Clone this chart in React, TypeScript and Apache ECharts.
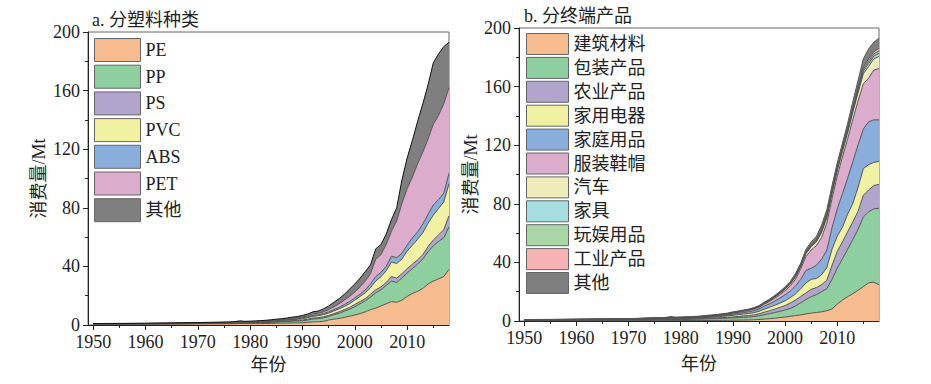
import React, { useEffect, useRef } from 'react';
import * as echarts from 'echarts';

const FONT = "'Liberation Serif', 'Times New Roman', 'Noto Sans CJK SC', serif";

const YEARS = [1950, 1955, 1960, 1965, 1970,
  1975, 1976, 1977, 1978, 1979, 1980, 1981, 1982, 1983, 1984, 1985, 1986, 1987, 1988, 1989,
  1990, 1991, 1992, 1993, 1994, 1995, 1996, 1997, 1998, 1999,
  2000, 2001, 2002, 2003, 2004, 2005, 2006, 2007, 2008, 2009,
  2010, 2011, 2012, 2013, 2014, 2015, 2016, 2017, 2018];

const X_LABELS = [1950, 1960, 1970, 1980, 1990, 2000, 2010];
const X_MINOR = [1955, 1965, 1975, 1985, 1995, 2005, 2015];

// a. by plastic type (Mt)
const PLASTIC_NAMES = ['PE', 'PP', 'PS', 'PVC', 'ABS', 'PET', '其他'];
const PLASTIC_COLORS = ['#f6bb8f', '#8ecf9f', '#b1a5cd', '#f1f1a2', '#89aedb', '#dcaccd', '#7f7f7f'];
const PE = [0.5, 0.55, 0.6, 0.65, 0.75, 0.85, 0.85, 0.9, 1.0, 0.95, 0.95, 1.0, 1.0, 1.05, 1.1, 1.2, 1.25, 1.3, 1.4, 1.45,
  1.5, 1.8, 2.1, 2.2, 2.5, 3.4, 4.0, 4.5, 5.2, 6.0, 6.8, 7.8, 9.0, 10.5, 11.5, 13, 14.5, 16, 15.5, 17, 19.5, 21.5, 23, 25, 28, 30, 31.5, 33, 38];
const PP = [0.1, 0.1, 0.12, 0.18, 0.22, 0.3, 0.32, 0.35, 0.45, 0.4, 0.45, 0.5, 0.55, 0.6, 0.7, 0.8, 0.9, 1.0, 1.2, 1.3,
  1.4, 1.6, 2.0, 2.1, 2.4, 2.4, 3, 3.5, 4.2, 4.8, 5.7, 6.7, 7.5, 8.5, 10.5, 11, 12.5, 14, 13.5, 15, 16, 17, 18.5, 20, 22, 24, 25.5, 26.5, 29];
const PS = [0.08, 0.08, 0.1, 0.12, 0.14, 0.16, 0.17, 0.18, 0.22, 0.2, 0.2, 0.22, 0.24, 0.26, 0.28, 0.32, 0.35, 0.38, 0.42, 0.45,
  0.5, 0.6, 0.7, 0.7, 0.7, 0.8, 0.8, 1, 1.1, 1.2, 1.5, 1.5, 1.5, 2, 2, 2, 2, 3, 3, 3, 3, 3, 3, 3, 3.5, 4, 4.5, 5.5, 7.5];
const PVC = [0.15, 0.16, 0.17, 0.19, 0.21, 0.25, 0.26, 0.28, 0.35, 0.3, 0.32, 0.34, 0.36, 0.4, 0.44, 0.5, 0.55, 0.6, 0.68, 0.72,
  0.9, 1.0, 1.2, 1.3, 1.5, 1.6, 1.8, 2, 2.2, 2.5, 3, 3.5, 4, 4.5, 6, 7, 8, 10, 10, 10, 12, 13, 14, 15, 16, 17, 18, 19, 22];
const ABS = [0.02, 0.02, 0.03, 0.05, 0.07, 0.1, 0.1, 0.12, 0.15, 0.13, 0.14, 0.15, 0.17, 0.19, 0.21, 0.24, 0.26, 0.28, 0.3, 0.32,
  0.5, 0.5, 0.6, 0.7, 0.7, 0.8, 0.9, 1, 1.3, 1.5, 1.5, 1.5, 2, 2.5, 3, 3, 3, 4, 4, 4, 4, 5, 5, 6, 6, 7, 6, 6, 7];
const PET = [0.05, 0.05, 0.06, 0.07, 0.09, 0.12, 0.13, 0.15, 0.2, 0.18, 0.2, 0.22, 0.25, 0.28, 0.32, 0.38, 0.42, 0.48, 0.55, 0.6,
  0.7, 0.8, 1.0, 1.0, 1.2, 1.5, 2, 2.5, 3, 3.5, 4, 5, 6, 7, 12, 12, 15, 17, 25, 34, 38.5, 41.5, 46.5, 49, 51.5, 55, 57.5, 61, 58.5];
const PLASTIC_OTHER = [0.12, 0.13, 0.14, 0.16, 0.18, 0.23, 0.25, 0.3, 0.45, 0.35, 0.35, 0.38, 0.42, 0.46, 0.5, 0.55, 0.6, 0.7, 0.8, 0.9,
  1.0, 1.2, 1.4, 1.5, 2.0, 2.5, 3.0, 3.5, 4.0, 5.0, 5.5, 6.0, 6.5, 6.0, 7.0, 7.0, 7.0, 8.0, 9, 16, 21, 25, 29, 33, 37, 42, 42, 39, 31];
const PLASTIC_VALUES = [PE, PP, PS, PVC, ABS, PET, PLASTIC_OTHER];

// b. by end-use product (Mt)
const PRODUCT_NAMES = ['建筑材料', '包装产品', '农业产品', '家用电器', '家庭用品', '服装鞋帽', '汽车', '家具', '玩娱用品', '工业产品', '其他'];
const PRODUCT_COLORS = ['#f6bb8f', '#8ecf9f', '#b1a5cd', '#f1f1a2', '#89aedb', '#dcaccd', '#efecbc', '#a6dde1', '#a8d7a5', '#f7b2b4', '#7f7f7f'];
const CONSTRUCTION = [0.15, 0.15, 0.17, 0.19, 0.2, 0.25, 0.25, 0.26, 0.28, 0.27, 0.28, 0.3, 0.32, 0.34, 0.36, 0.38, 0.4, 0.42, 0.45, 0.48,
  0.55, 0.6, 0.65, 0.7, 0.8, 1.0, 1.3, 1.6, 1.9, 2.3, 2.7, 3.2, 3.7, 4.2, 4.8, 5.4, 5.8, 6.3, 7, 8.2, 11.5, 14.3, 16.6, 18.7, 21, 23.5, 26, 26.5, 24.7];
const PACKAGING = [0.3, 0.32, 0.35, 0.4, 0.45, 0.6, 0.62, 0.66, 0.75, 0.7, 0.72, 0.75, 0.8, 0.86, 0.94, 1.05, 1.15, 1.25, 1.35, 1.45,
  1.55, 1.7, 1.85, 2.0, 2.2, 2.5, 3.0, 3.4, 3.9, 4.3, 4.8, 5.4, 6.6, 8.2, 9.9, 11.2, 12.2, 13.7, 15, 20.3, 24.5, 28.2, 32.4, 37.1, 41.7, 47.5, 48.5, 50, 52.3];
const AGRICULTURE = [0.1, 0.11, 0.12, 0.14, 0.17, 0.23, 0.24, 0.26, 0.3, 0.27, 0.28, 0.29, 0.3, 0.32, 0.35, 0.4, 0.43, 0.47, 0.55, 0.6,
  0.7, 0.8, 1.0, 1.0, 1.2, 1.4, 1.7, 2.0, 2.3, 2.7, 3.0, 3.7, 4.0, 4.3, 4.5, 5.0, 4.8, 4.8, 5.8, 9.5, 11.5, 11.5, 12, 12, 12.3, 14.8, 14.9, 16, 16.3];
const APPLIANCES = [0.12, 0.13, 0.15, 0.18, 0.22, 0.3, 0.31, 0.34, 0.4, 0.36, 0.37, 0.39, 0.41, 0.44, 0.48, 0.55, 0.6, 0.67, 0.8, 0.9,
  1.1, 1.2, 1.2, 1.4, 1.5, 1.7, 2.0, 2.3, 2.6, 2.9, 3.3, 3.7, 4.2, 5.3, 6.8, 6.9, 6.2, 6.7, 8.7, 11, 10.5, 10, 12, 12.6, 16.4, 18.2, 17.3, 15.7, 15.7];
const HOUSEHOLD = [0.1, 0.11, 0.12, 0.14, 0.16, 0.22, 0.23, 0.25, 0.3, 0.27, 0.28, 0.29, 0.3, 0.32, 0.35, 0.38, 0.4, 0.43, 0.5, 0.6,
  0.8, 0.9, 1.1, 1.2, 1.4, 1.7, 2.1, 2.4, 2.8, 3.4, 4.1, 4.5, 5.3, 6.4, 8.6, 7.5, 9, 10.7, 11.9, 14.7, 18.5, 23, 24.7, 28.6, 29, 27, 29.3, 29.1, 28.3];
const APPAREL = [0.08, 0.09, 0.1, 0.12, 0.14, 0.2, 0.21, 0.23, 0.3, 0.26, 0.27, 0.28, 0.3, 0.32, 0.34, 0.38, 0.41, 0.44, 0.48, 0.5,
  0.6, 0.7, 0.8, 0.9, 1.0, 1.1, 1.4, 1.6, 2.0, 2.4, 2.8, 3.5, 4.7, 7.3, 9.4, 12.5, 13.4, 14.8, 18.6, 19.8, 22.5, 25, 26.8, 28.8, 30, 31, 29.7, 34, 35];
const AUTOMOTIVE = [0.06, 0.06, 0.07, 0.08, 0.09, 0.12, 0.12, 0.13, 0.16, 0.14, 0.15, 0.15, 0.16, 0.17, 0.18, 0.2, 0.22, 0.24, 0.27, 0.3,
  0.36, 0.36, 0.36, 0.36, 0.4, 0.44, 0.52, 0.64, 0.76, 0.88, 1.0, 1.2, 1.6, 1.5, 2.0, 2.2, 2.6, 3.4, 3.6, 3.6, 3.6, 3.8, 4.2, 4.9, 5.6, 6.8, 8, 7.6, 8.3];
const FURNITURE = [0.02, 0.02, 0.03, 0.03, 0.04, 0.05, 0.05, 0.06, 0.07, 0.06, 0.06, 0.06, 0.07, 0.07, 0.08, 0.09, 0.1, 0.11, 0.12, 0.12,
  0.09, 0.09, 0.09, 0.09, 0.1, 0.11, 0.13, 0.16, 0.19, 0.22, 0.3, 0.3, 0.4, 0.4, 0.5, 0.55, 0.65, 0.85, 0.9, 0.9, 0.9, 0.95, 1.05, 1.2, 1.4, 1.7, 2, 1.9, 2.1];
const TOYS = [0.02, 0.02, 0.02, 0.03, 0.03, 0.04, 0.04, 0.04, 0.05, 0.05, 0.05, 0.05, 0.05, 0.06, 0.06, 0.07, 0.07, 0.08, 0.08, 0.08,
  0.07, 0.07, 0.07, 0.07, 0.08, 0.09, 0.1, 0.13, 0.15, 0.18, 0.2, 0.25, 0.3, 0.3, 0.4, 0.45, 0.5, 0.7, 0.7, 0.7, 0.7, 0.75, 0.85, 1.0, 1.1, 1.4, 1.6, 1.5, 1.7];
const INDUSTRIAL = [0.02, 0.02, 0.02, 0.03, 0.03, 0.04, 0.04, 0.04, 0.05, 0.05, 0.05, 0.05, 0.05, 0.06, 0.06, 0.07, 0.07, 0.08, 0.08, 0.08,
  0.07, 0.07, 0.07, 0.07, 0.08, 0.09, 0.1, 0.13, 0.15, 0.18, 0.2, 0.25, 0.3, 0.3, 0.4, 0.45, 0.5, 0.7, 0.7, 0.7, 0.7, 0.75, 0.85, 1.0, 1.1, 1.4, 1.6, 1.5, 1.7];
const PRODUCT_OTHER = [0.05, 0.06, 0.07, 0.08, 0.1, 0.13, 0.14, 0.16, 0.25, 0.2, 0.2, 0.21, 0.22, 0.23, 0.25, 0.28, 0.3, 0.3, 0.31, 0.31,
  0.31, 0.31, 0.31, 0.31, 0.34, 0.37, 0.45, 0.54, 0.65, 0.74, 0.9, 1.0, 1.4, 1.3, 1.7, 1.85, 2.15, 2.85, 3.1, 3.1, 3.1, 3.25, 3.55, 4.1, 4.8, 5.7, 6.8, 6.5, 6.9];
const PRODUCT_VALUES = [CONSTRUCTION, PACKAGING, AGRICULTURE, APPLIANCES, HOUSEHOLD, APPAREL, AUTOMOTIVE, FURNITURE, TOYS, INDUSTRIAL, PRODUCT_OTHER];

const TEXT_COLOR = '#222';

function makeSeries(names: string[], values: number[][], colors: string[], axis: number, stack: string, topColor: string) {
  return names.map((name, k) => ({
    type: 'line',
    name,
    stack,
    xAxisIndex: axis,
    yAxisIndex: axis,
    // value first so that the stacked dimension is the y value
    data: YEARS.map((y, i) => [values[k][i], y]),
    encode: { x: 1, y: 0 },
    symbol: 'none',
    showSymbol: false,
    lineStyle: { color: k === names.length - 1 ? topColor : '#555', width: 1 },
    areaStyle: { color: colors[k], opacity: 1 },
    itemStyle: { color: colors[k] },
  }));
}

function xAxisMain(grid: number, nameGap: number) {
  return {
    type: 'value', gridIndex: grid, min: 1949, max: 2018, position: 'bottom',
    axisLine: { show: true, onZero: false, lineStyle: { color: TEXT_COLOR, width: 1 } },
    axisTick: { show: true, length: 5, customValues: X_LABELS, lineStyle: { color: TEXT_COLOR } },
    axisLabel: { customValues: X_LABELS, formatter: (v: number) => String(v), margin: 8, fontSize: 18, fontFamily: FONT, color: TEXT_COLOR },
    splitLine: { show: false },
    name: '年份', nameLocation: 'middle', nameGap,
    nameTextStyle: { fontSize: 18, fontFamily: FONT, color: TEXT_COLOR },
  };
}

function xAxisMinor(grid: number) {
  return {
    type: 'value', gridIndex: grid, min: 1949, max: 2018, position: 'bottom',
    axisLine: { show: false },
    axisTick: { show: true, length: 3, customValues: X_MINOR, lineStyle: { color: TEXT_COLOR } },
    axisLabel: { show: false, customValues: X_MINOR },
    splitLine: { show: false },
  };
}

function yAxis(grid: number, nameGap: number) {
  return {
    type: 'value', gridIndex: grid, min: 0, max: 200, interval: 40,
    axisLine: { show: true, onZero: false, lineStyle: { color: TEXT_COLOR, width: 1 } },
    axisTick: { show: true, length: 5, lineStyle: { color: TEXT_COLOR } },
    minorTick: { show: true, splitNumber: 2, length: 3, lineStyle: { color: TEXT_COLOR } },
    axisLabel: { margin: 8, fontSize: 18, fontFamily: FONT, color: TEXT_COLOR },
    splitLine: { show: false },
    minorSplitLine: { show: false },
    name: '消费量/Mt', nameLocation: 'middle', nameGap, nameRotate: 90,
    nameTextStyle: { fontSize: 18, fontFamily: FONT, color: TEXT_COLOR },
  };
}

function legend(names: string[], left: number, top: number, w: number, h: number, gap: number) {
  return {
    data: names, orient: 'vertical', left, top, padding: 0,
    itemWidth: w, itemHeight: h, itemGap: gap, icon: 'rect', selectedMode: false,
    itemStyle: { borderColor: '#666', borderWidth: 1 },
    textStyle: { fontSize: 18, fontFamily: FONT, color: TEXT_COLOR },
  };
}

export default function App() {
  const ref = useRef<HTMLDivElement>(null);
  useEffect(() => {
    if (!ref.current) return;
    const chart = echarts.init(ref.current, undefined, { renderer: 'svg' });
    chart.setOption({
      animation: false,
      backgroundColor: '#fff',
      title: [
        { text: 'a. 分塑料种类', left: 92, top: 11, padding: 0, textStyle: { fontSize: 18, fontWeight: 'normal', fontFamily: FONT, color: TEXT_COLOR } },
        { text: 'b. 分终端产品', left: 524, top: 7, padding: 0, textStyle: { fontSize: 18, fontWeight: 'normal', fontFamily: FONT, color: TEXT_COLOR } },
      ],
      grid: [
        { left: 88, top: 32, width: 361, height: 293, show: true, borderColor: '#666', borderWidth: 1 },
        { left: 519, top: 28, width: 360, height: 293, show: true, borderColor: '#666', borderWidth: 1 },
      ],
      xAxis: [xAxisMain(0, 31), xAxisMain(1, 34), xAxisMinor(0), xAxisMinor(1)],
      yAxis: [yAxis(0, 40), yAxis(1, 39)],
      legend: [
        legend(PLASTIC_NAMES, 94, 38, 46, 23, 2.7),
        legend(PRODUCT_NAMES, 526, 33, 42, 21, 1.9),
      ],
      series: [
        ...makeSeries(PLASTIC_NAMES, PLASTIC_VALUES, PLASTIC_COLORS, 0, 'a', '#111'),
        ...makeSeries(PRODUCT_NAMES, PRODUCT_VALUES, PRODUCT_COLORS, 1, 'b', '#555'),
      ],
    });
    return () => chart.dispose();
  }, []);
  return <div ref={ref} style={{ position: 'fixed', left: 0, top: 0, width: 931, height: 384 }} />;
}
